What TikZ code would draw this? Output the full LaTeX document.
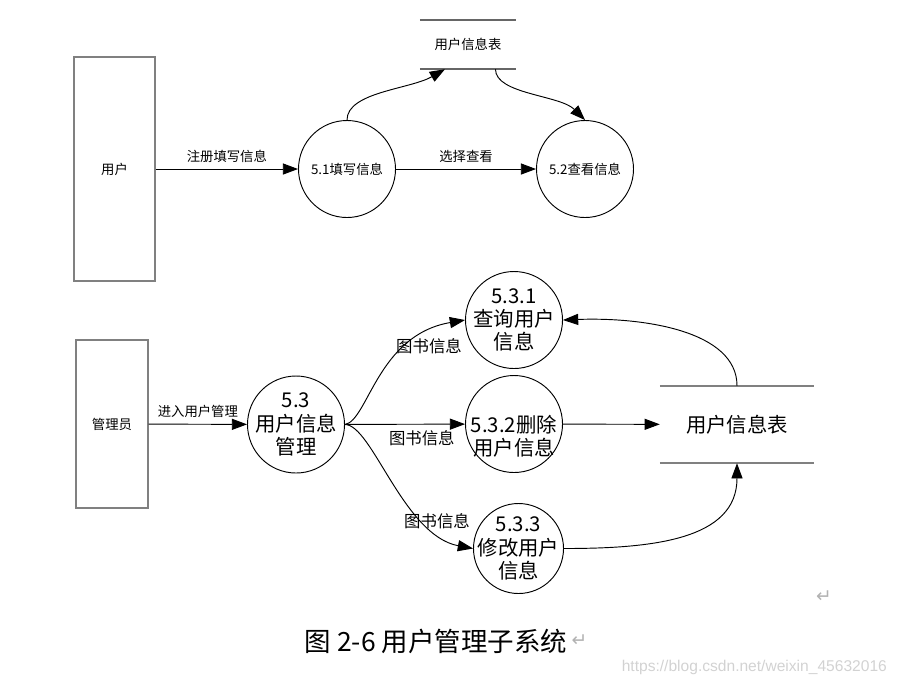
\documentclass[tikz,border=0pt]{standalone}
\usepackage{fontspec}
\setmainfont{Noto Sans CJK SC}
\newfontfamily\wmfont{Liberation Sans}
\newfontfamily\symfont{DejaVu Sans}
\usetikzlibrary{arrows.meta,positioning}

\tikzset{
  extbox/.style={draw=gray, line width=1.2pt, inner sep=0pt},
  proc/.style={draw, circle, line width=0.8pt, inner sep=0pt, minimum size=2.91cm},
  flow/.style={line width=0.8pt, -{Triangle[length=13pt,width=9.5pt]}},
  storeline/.style={draw=gray, line width=1.4pt},
  smalltxt/.style={font=\fontsize{11.4pt}{13pt}\selectfont},
  bigtxt/.style={font=\fontsize{17.4pt}{20pt}\selectfont, align=center},
  flowtxt/.style={font=\fontsize{14pt}{16pt}\selectfont},
  retmark/.style={font=\symfont\fontsize{16pt}{18pt}\selectfont, text=gray!60, inner sep=0pt},
  wm/.style={font=\wmfont\fontsize{13.3pt}{15pt}\selectfont, text=gray!35}
}

\begin{document}
\begin{tikzpicture}[x=0.03cm, y=-0.03cm]
\useasboundingbox (0,0) rectangle (900,687);
% upper part: user
\node[extbox, smalltxt, minimum width=2.43cm, minimum height=6.72cm] (user) at (114.5,169) {用户};
\node[proc, smalltxt] (p51) at (347,169) {5.1填写信息};
\node[proc, smalltxt] (p52) at (585,169) {5.2查看信息};
\node[smalltxt, minimum width=2.88cm, minimum height=1.47cm] (store1) at (468,44.5) {用户信息表};
\draw[storeline, draw=gray!80!black] (store1.north west) -- (store1.north east);
\draw[storeline, draw=gray!80!black] (store1.south west) -- (store1.south east);
\draw[flow] (user) -- node[smalltxt, above=2pt] (lreg) {注册填写信息} (p51);
\draw[flow] (p51) -- node[smalltxt, above=2pt] (lsel) {选择查看} (p52);
\draw[flow] (p51.north) .. controls +(0,-28) and +(-35,20) .. (store1.227);
\draw[flow] (store1.318) .. controls +(0,25) and +(-25,-25) .. (p52.north);

% lower part: admin
\node[extbox, smalltxt, minimum width=2.16cm, minimum height=5.04cm] (admin) at (112,424) {管理员};
\node[proc, label={[bigtxt]center:5.3\\用户信息\\管理}] (p53) at (296,424.5) {};
\node[proc, label={[bigtxt]center:5.3.1\\查询用户\\信息}] (p531) at (514,320) {};
\node[proc, label={[bigtxt, yshift=-0.36cm]center:5.3.2删除\\用户信息}] (p532) at (514,424) {};
\node[proc, minimum size=2.7cm, label={[bigtxt]center:5.3.3\\修改用户\\信息}] (p533) at (518.5,548.5) {};
\node[bigtxt, minimum width=4.62cm, minimum height=2.31cm] (store2) at (737,424.5) {用户信息表};
\draw[storeline] (store2.north west) -- (store2.north east);
\draw[storeline] (store2.south west) -- (store2.south east);
\draw[flow] (admin) -- node[smalltxt, above=2pt] (lenter) {进入用户管理} (p53);
\draw[flow] (p53) -- node[flowtxt, pos=0.64, below=2pt] (lbook2) {图书信息} (p532);
\draw[flow] (p53.east) .. controls +(23,-4) and +(-87.5,15) .. (p531.west);
\draw[flow] (p53.east) .. controls +(27,0) and +(-69.5,-13) .. (p533.west);
\node[flowtxt] (lbook1) at (429,346) {图书信息};
\node[flowtxt] (lbook3) at (437,521) {图书信息};
\draw[flow] (p532) -- (store2);
\draw[flow] (store2.north) .. controls +(0,-55) and +(80,-3) .. (p531.east);
\draw[flow] (p533.east) .. controls +(87,0) and +(0,77) .. (store2.south);

% caption
\node[font=\fontsize{22.6pt}{26pt}\selectfont] (caption) at (436,641) {图 2-6 用户管理子系统};
\node[retmark, right=0pt of caption] (capmark) {↵};
\node[retmark] (endmark) at (824,597) {↵};
\node[wm, anchor=east] (wmark) at (891,667) {https://blog.csdn.net/weixin\_45632016};
\end{tikzpicture}
\end{document}
